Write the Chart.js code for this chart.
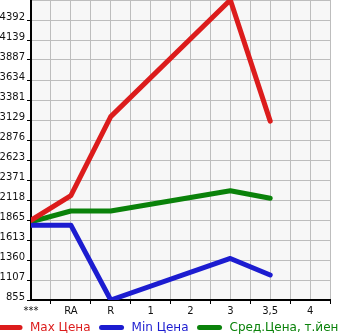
<!DOCTYPE html>
<html>
<head>
<meta charset="utf-8">
<script src="https://cdn.jsdelivr.net/npm/chart.js@4"></script>
<style>
html,body{margin:0;padding:0;background:#fff;}
#wrap{width:345px;height:335px;position:relative;}
</style>
</head>
<body>
<div id="wrap"><canvas id="c" width="345" height="335"></canvas></div>
<script>
const categories = ['***', 'RA', 'R', '1', '2', '3', '3,5', '4'];
const maxPrice = [1862, 2173, 3172, null, null, 4645, 3115, null];
const minPrice = [1800, 1800, 855, null, null, 1380, 1171, null];
const avgPrice = [1842, 1979, 1979, null, null, 2236, 2140, null];
const yTickLabels = ['855', '1107', '1360', '1613', '1865', '2118', '2371', '2623', '2876', '3129', '3381', '3634', '3887', '4139', '4392'];
const seriesNames = ['Max Цена', 'Min Цена', 'Сред.Цена, т.йен'];
const seriesColors = ['#dc1c1c', '#1c1cd0', '#0a820a'];

const Y_MIN = 855, Y_MAX = 4645;

function toPoints(arr) {
  return categories.map((c, i) => ({ x: i, y: arr[i] }));
}

const bgPlugin = {
  id: 'plotBg',
  beforeDraw(chart) {
    const a = chart.chartArea, ctx = chart.ctx;
    ctx.save();
    ctx.fillStyle = '#f7f7f7';
    ctx.fillRect(a.left, a.top, a.right - a.left, a.bottom - a.top);
    ctx.restore();
  }
};

const legendPlugin = {
  id: 'customLegend',
  afterDraw(chart) {
    const ctx = chart.ctx;
    ctx.save();
    ctx.font = '12px "DejaVu Sans"';
    ctx.textBaseline = 'middle';
    let x = -2.5;
    const y = 327.5;
    chart.data.datasets.forEach(ds => {
      ctx.strokeStyle = ds.borderColor;
      ctx.lineWidth = 5;
      ctx.lineCap = 'round';
      ctx.beginPath();
      ctx.moveTo(x + 2.5, y);
      ctx.lineTo(x + 22.5, y);
      ctx.stroke();
      ctx.fillStyle = ds.borderColor;
      ctx.fillText(ds.label, x + 32.5, y);
      x = x + 32.5 + ctx.measureText(ds.label).width + 8.5;
    });
    ctx.restore();
  }
};

const datasets = [maxPrice, minPrice, avgPrice].map((arr, i) => ({
  label: seriesNames[i],
  data: toPoints(arr),
  borderColor: seriesColors[i],
  backgroundColor: seriesColors[i],
  borderWidth: 5,
  pointRadius: 0,
  pointHoverRadius: 0,
  tension: 0,
  spanGaps: true,
  borderCapStyle: 'round',
  borderJoinStyle: 'round',
  fill: false
}));

new Chart(document.getElementById('c'), {
  type: 'line',
  data: { datasets },
  plugins: [bgPlugin, legendPlugin],
  options: {
    responsive: false,
    animation: false,
    events: [],
    layout: { padding: { left: 0, right: 15, top: 0, bottom: 17 } },
    plugins: { legend: { display: false }, tooltip: { enabled: false } },
    scales: {
      x: {
        type: 'linear',
        min: 0,
        max: categories.length - 0.5,
        afterBuildTicks(scale) {
          const t = [];
          for (let v = 0; v <= categories.length - 0.5 + 1e-9; v += 0.5) t.push({ value: v });
          scale.ticks = t;
        },
        afterFit(scale) {
          scale.height = 18;
          scale.paddingLeft = 0;
          scale.paddingRight = 0;
        },
        ticks: {
          autoSkip: false,
          maxRotation: 0,
          padding: 1,
          color: '#111',
          font: { family: 'DejaVu Sans', size: 10 },
          callback(v) {
            return Number.isInteger(v) ? categories[v] : '';
          }
        },
        grid: {
          color: '#bdbdbd',
          lineWidth: 1,
          tickLength: 4,
          tickColor(ctx) {
            return (ctx.tick && !Number.isInteger(ctx.tick.value)) ? '#000' : 'rgba(0,0,0,0)';
          }
        },
        border: { display: true, color: '#000', width: 2 }
      },
      y: {
        type: 'linear',
        min: Y_MIN,
        max: Y_MAX,
        afterBuildTicks(scale) {
          const t = yTickLabels.map(l => ({ value: Number(l) }));
          t.push({ value: Y_MAX });
          scale.ticks = t;
        },
        afterFit(scale) {
          scale.width = 31;
          scale.paddingTop = 0;
          scale.paddingBottom = 0;
        },
        ticks: {
          autoSkip: false,
          padding: 2,
          labelOffset: -3,
          color: '#111',
          font: { family: 'DejaVu Sans', size: 10 },
          callback(v) {
            const s = String(v);
            return yTickLabels.includes(s) ? s : '';
          }
        },
        grid: {
          color: '#bdbdbd',
          lineWidth: 1,
          tickLength: 4,
          tickColor(ctx) {
            return (ctx.tick && ctx.tick.value < Y_MAX) ? '#000' : 'rgba(0,0,0,0)';
          }
        },
        border: { display: true, color: '#000', width: 2 }
      }
    }
  }
});
</script>
</body>
</html>
